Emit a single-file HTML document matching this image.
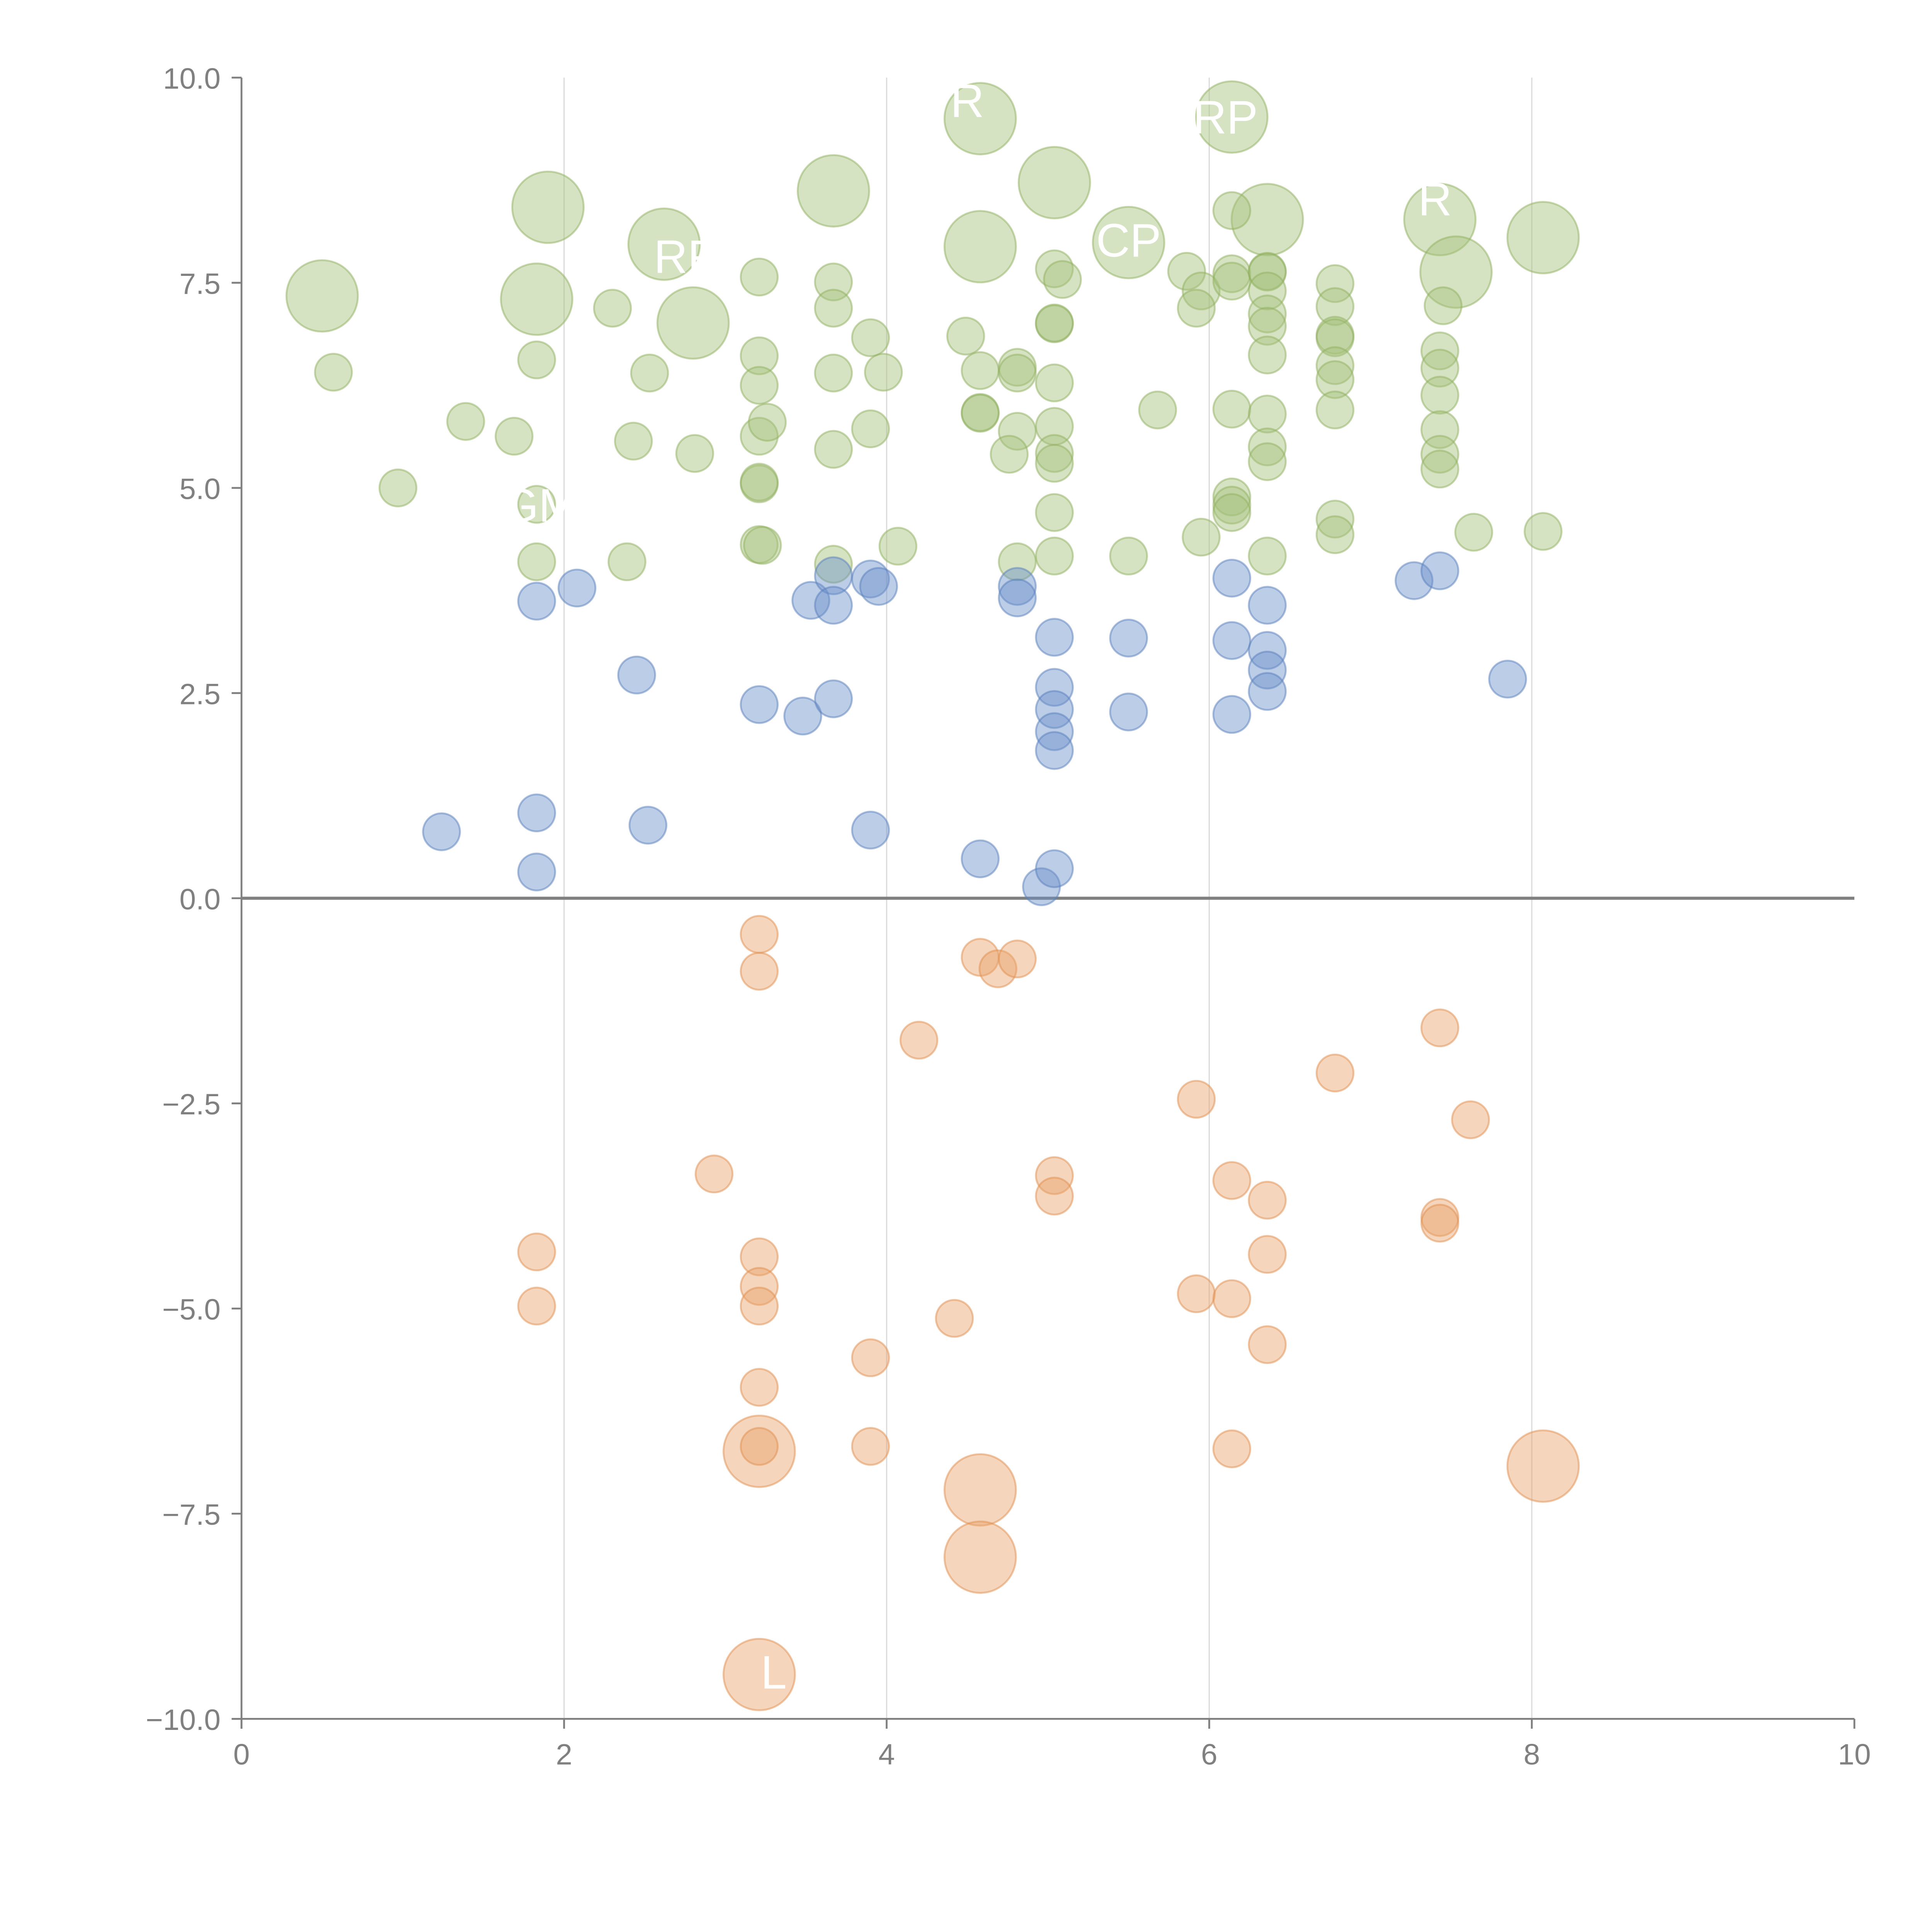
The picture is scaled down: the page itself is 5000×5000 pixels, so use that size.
<!DOCTYPE html>
<html><head><meta charset="utf-8"><style>html,body{margin:0;padding:0;background:#fff;}svg{display:block;}</style></head>
<body>
<svg id="chart" width="5000" height="5000" viewBox="0 0 1568 1568" xmlns="http://www.w3.org/2000/svg" font-family="Liberation Sans, sans-serif">
<g id="grid"></g>
<g id="axes"></g>
<g id="marks"></g>
<g id="labels"></g>
</svg>
<script>
const xTicks = [0, 2, 4, 6, 8, 10];
const yTicks = [-10, -7.5, -5, -2.5, 0, 2.5, 5, 7.5, 10];
const yTickLabels = ["\u221210.0", "\u22127.5", "\u22125.0", "\u22122.5", "0.0", "2.5", "5.0", "7.5", "10.0"];

const greenX = [0.50,1.90,1.83,2.62,2.80,3.67,4.58,4.58,5.04,5.50,6.14,6.36,7.43,7.53,8.07,
 0.57,0.97,1.39,1.69,1.83,1.83,1.83,2.30,2.39,2.43,2.53,2.81,3.21,3.21,3.21,3.21,3.21,3.21,3.26,3.21,3.23,
 3.67,3.67,3.67,3.67,3.67,3.90,3.90,3.98,4.07,4.49,4.58,4.58,4.58,4.81,4.81,4.81,4.76,4.81,
 5.04,5.09,5.04,5.04,5.04,5.04,5.04,5.04,5.04,5.04,5.50,5.68,5.86,5.95,5.92,5.95,
 6.14,6.14,6.14,6.14,6.14,6.14,6.14,6.36,6.36,6.36,6.36,6.36,6.36,6.36,6.36,6.36,6.36,
 6.78,6.78,6.78,6.78,6.78,6.78,6.78,6.78,6.78,7.43,7.43,7.43,7.43,7.43,7.43,7.45,7.64,8.07];
const greenY = [7.34,8.42,7.30,7.97,7.01,8.62,9.50,7.94,8.72,7.99,9.52,8.27,8.27,7.63,8.05,
 6.41,5.00,5.81,5.63,6.56,4.80,4.10,7.19,4.10,5.57,6.40,5.42,7.57,6.61,6.25,5.63,5.05,5.07,5.80,4.31,4.30,
 7.51,7.19,6.40,5.47,4.07,6.83,5.72,6.41,4.29,6.85,6.43,5.92,5.91,6.47,6.40,5.69,5.41,4.10,
 7.67,7.54,7.00,7.01,6.28,5.75,5.42,5.30,4.70,4.17,4.17,5.95,7.64,7.40,7.19,4.40,
 8.38,7.61,7.52,5.96,4.89,4.79,4.70,7.64,7.63,7.40,7.12,6.97,6.62,5.90,5.50,5.32,4.17,
 7.49,7.21,6.86,6.83,6.49,6.32,5.95,4.62,4.43,6.67,6.46,6.13,5.71,5.41,5.23,7.22,4.46,4.47];
const greenSize = [2,2,2,2,2,2,2,2,2,2,2,2,2,2,2];

const blueX = [1.24,1.83,1.83,1.83,2.08,2.45,2.52,3.21,3.48,3.53,3.67,3.67,3.67,3.90,3.95,3.90,4.58,4.81,4.81,4.96,5.04,5.04,5.04,5.04,5.04,5.04,5.50,5.50,6.14,6.14,6.14,6.36,6.36,6.36,6.36,7.27,7.43,7.85];
const blueY = [0.81,1.04,0.32,3.62,3.78,2.72,0.89,2.36,2.22,3.63,2.43,3.93,3.57,3.89,3.80,0.83,0.48,3.80,3.66,0.14,0.36,3.18,2.57,2.30,2.03,1.80,3.17,2.27,3.90,3.14,2.24,3.57,3.02,2.78,2.52,3.87,3.99,2.67];

const orangeX = [3.21,4.58,4.58,3.21,8.07,
 3.21,3.21,4.58,4.69,4.81,4.20,2.93,1.83,1.83,3.21,3.21,3.21,3.21,3.21,3.90,3.90,4.42,5.04,5.04,5.92,5.92,6.14,6.14,6.14,6.36,6.36,6.36,6.78,7.43,7.43,7.43,7.62];
const orangeY = [-6.74,-7.21,-8.03,-9.46,-6.92,
 -0.44,-0.89,-0.72,-0.86,-0.74,-1.73,-3.36,-4.31,-4.97,-4.37,-4.73,-4.97,-5.96,-6.68,-5.60,-6.68,-5.12,-3.38,-3.63,-2.45,-4.82,-3.44,-4.88,-6.71,-3.68,-4.34,-5.44,-2.13,-1.58,-3.89,-3.96,-2.70];
const orangeSize = [2,2,2,2,2];

const labelText = ["RP","CP","R","RF","L","R","GM"];
const labelX = [6.1,5.5,7.4,2.75,3.3,4.5,1.85];
const labelY = [9.5,8.0,8.5,7.8,-9.45,9.7,4.77];

const NS = "http://www.w3.org/2000/svg";
const X0 = 196, X1 = 1505, Y0 = 1395, Y1 = 63;
function sx(v){ return X0 + (v - 0) / 10 * (X1 - X0); }
function sy(v){ return Y0 - (v + 10) / 20 * (Y0 - Y1); }
function mk(tag, attrs, parent){ const e = document.createElementNS(NS, tag); for (const k in attrs) e.setAttribute(k, attrs[k]); parent.appendChild(e); return e; }

const grid = document.getElementById('grid');
xTicks.forEach(function(t){
  if (t === 0 || t === 10) return;
  const l = mk('line', {x1: sx(t), x2: sx(t), y1: Y1, y2: Y0, stroke: '#dcdcdc', 'stroke-width': 1}, grid);
  
  
});

const axes = document.getElementById('axes');
let a = mk('line', {x1: X0, x2: X0, y1: Y1, y2: Y0 + 8, stroke: '#808080', 'stroke-width': 1.5}, axes);


a = mk('line', {x1: X0 - 8, x2: X1, y1: Y0, y2: Y0, stroke: '#808080', 'stroke-width': 1.5}, axes);


a = mk('line', {x1: X0, x2: X1, y1: sy(0), y2: sy(0), stroke: '#808080', 'stroke-width': 2.5}, axes);


xTicks.forEach(function(t){
  const tk = mk('line', {x1: sx(t), x2: sx(t), y1: Y0, y2: Y0 + 8, stroke: '#808080', 'stroke-width': 1.5}, axes);
  
  
  const tx = mk('text', {x: sx(t), y: Y0 + 37, 'text-anchor': 'middle', 'font-size': 24, fill: '#808080'}, axes);
  tx.textContent = String(t);
  
  
});
yTicks.forEach(function(t, i){
  const tk = mk('line', {x1: X0 - 8, x2: X0, y1: sy(t), y2: sy(t), stroke: '#808080', 'stroke-width': 1.5}, axes);
  
  
  const tx = mk('text', {x: X0 - 17, y: sy(t) + 9, 'text-anchor': 'end', 'font-size': 24, fill: '#808080'}, axes);
  tx.textContent = yTickLabels[i];
  
  
});

const marks = document.getElementById('marks');
function drawSeries(xs, ys, sizes, fill, stroke, name){
  xs.forEach(function(x, i){
    const r = (sizes[i] === 2) ? 29 : 15;
    const c = mk('circle', {cx: sx(x), cy: sy(ys[i]), r: r, fill: fill, 'fill-opacity': 0.45, stroke: stroke, 'stroke-opacity': 0.5, 'stroke-width': 1.5}, marks);
    
    
  });
}
drawSeries(greenX, greenY, greenSize, '#a3c27a', '#8fb060', 'green-bubble');
drawSeries(blueX, blueY, [], '#6b90c9', '#5a80bb', 'blue-bubble');
drawSeries(orangeX, orangeY, orangeSize, '#e8a26a', '#e0904f', 'orange-bubble');

const labels = document.getElementById('labels');
labelText.forEach(function(s, i){
  const t = mk('text', {x: sx(labelX[i]), y: sy(labelY[i]) + 12, 'text-anchor': 'middle', 'font-size': 38, fill: '#ffffff'}, labels);
  t.textContent = s;
  
  
});
</script>
</body></html>
